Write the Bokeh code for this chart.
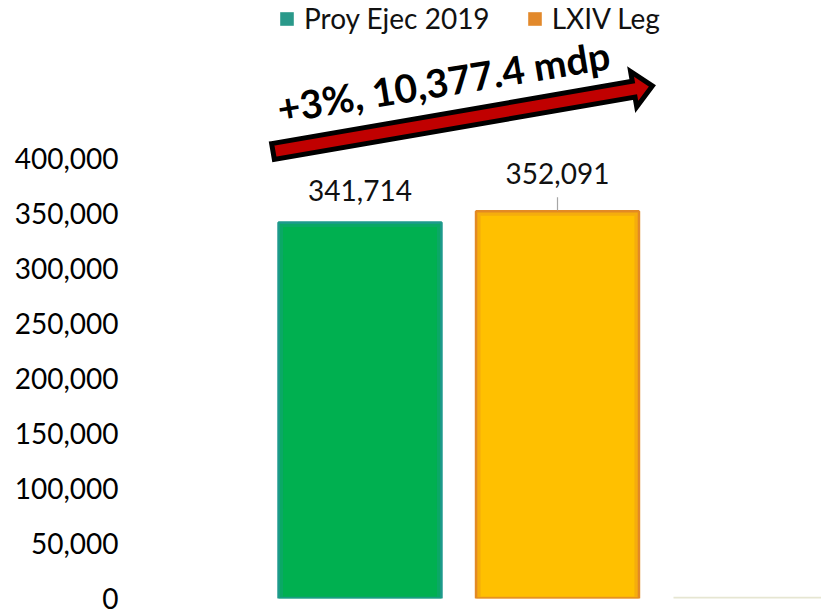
import math
from bokeh.plotting import figure
from bokeh.models import Range1d, FixedTicker, Legend, LegendItem, ColumnDataSource
from bokeh.embed import file_html
from bokeh.resources import INLINE
from bokeh.core.properties import value

# ---- data ----
categories = ["Proy Ejec 2019", "LXIV Leg"]
values = [341714, 352091]
value_labels = ["341,714", "352,091"]
y_ticks = [0, 50000, 100000, 150000, 200000, 250000, 300000, 350000, 400000]
y_tick_labels = ["0", "50,000", "100,000", "150,000", "200,000", "250,000",
                 "300,000", "350,000", "400,000"]
change_label = "+3%, 10,377.4 mdp"

# ---- styles ----
bar_fill = ["#00B050", "#FFC000"]
bar_edge = ["#1E9A8C", "#E38A24"]
legend_colors = ["#2A998A", "#E2892B"]
label_offset_px = [32, 38]
label_leader = [False, True]
FONT = "Lato"

# ---- layout ----
W, H = 821, 614
LEFT, BOTTOM = 130, 16
frame_w = W - LEFT
frame_h = H - BOTTOM
px_per_x = 197.5
px_per_y = 440 / 400000
x_start = 1 - (359.5 - LEFT) / px_per_x
x_end = x_start + frame_w / px_per_x
y_end = frame_h / px_per_y
upp = 1 / px_per_y  # data units per pixel (y)

def to_data(px, py):
    # canvas pixel -> data coords
    return (x_start + (px - LEFT) / px_per_x, (frame_h - py) / px_per_y)

p = figure(width=W, height=H, output_backend="svg", toolbar_location=None,
           x_range=Range1d(x_start, x_end), y_range=Range1d(0, y_end),
           min_border_left=LEFT, min_border_bottom=BOTTOM,
           min_border_top=0, min_border_right=0)
p.outline_line_color = None
p.xaxis.visible = False
p.xgrid.visible = False
p.ygrid.visible = False
p.background_fill_color = "white"
p.border_fill_color = "white"

ax = p.yaxis[0]
ax.ticker = FixedTicker(ticks=y_ticks)
ax.major_label_overrides = {t: l for t, l in zip(y_ticks, y_tick_labels)}
ax.axis_line_color = None
ax.major_tick_line_color = None
ax.minor_tick_line_color = None
ax.major_tick_out = 0
ax.major_tick_in = 0
ax.minor_tick_out = 0
ax.minor_tick_in = 0
ax.major_label_text_font = FONT
ax.major_label_text_font_size = "28px"
ax.major_label_text_line_height = 1.0
ax.major_label_text_color = "#000000"
ax.major_label_standoff = 12

xs = list(range(1, len(values) + 1))
bw = 0.825
src = ColumnDataSource(dict(x=xs, top=values, fill=bar_fill, edge=bar_edge))
p.vbar(x="x", top="top", width=bw, source=src, fill_color="fill",
       line_color="edge", line_width=2.5)
# soft inner edge glow
glow = ColumnDataSource(dict(x=xs, top=[v - 2.5 * upp for v in values], edge=bar_edge))
p.vbar(x="x", top="top", width=bw - 5 / px_per_x, source=glow, fill_color=None,
       line_color="edge", line_width=4, line_alpha=0.35)

# faint baseline stub to the right of the bars
bx0, _ = to_data(673, 0)
p.segment(x0=[bx0], x1=[x_end], y0=[0.6 * upp], y1=[0.6 * upp],
          line_color="#E6E6D2", line_width=2.5)

# value labels
lab_y = [v + o * upp for v, o in zip(values, label_offset_px)]
p.text(x=xs, y=lab_y, text=value_labels, text_font=value(FONT),
       text_font_size="28px", text_color="#111111", text_align="center",
       text_baseline="alphabetic")
lx = [x for x, f in zip(xs, label_leader) if f]
lv = [v for v, f in zip(values, label_leader) if f]
p.segment(x0=lx, x1=lx, y0=[v + 1 * upp for v in lv], y1=[v + 14 * upp for v in lv],
          line_color="#A6A6A6", line_width=1.2)

# legend (zero-width renderers carrying the legend colours)
items = []
for x, v, cat, col in zip(xs, values, categories, legend_colors):
    r = p.vbar(x=[x], top=[v], width=0, fill_color=col, line_color=None)
    items.append(LegendItem(label=cat, renderers=[r]))
leg = Legend(items=items, orientation="horizontal", location=(148, 563),
             glyph_width=17, glyph_height=17, label_standoff=9, spacing=36,
             padding=0, margin=0, border_line_color=None,
             background_fill_alpha=0, label_text_font=FONT,
             label_text_font_size="28px", label_text_color="#111111")
p.add_layout(leg)

# growth arrow (block arrow, red with black outline)
theta = math.radians(9.8)
P0 = (272.5, 151.0)
L, HL, hw, HW = 366.0, 19.0, 8.0, 18.0
d = (math.cos(theta), -math.sin(theta))
n = (math.sin(theta), math.cos(theta))
def pt(along, off):
    return (P0[0] + along * d[0] + off * n[0], P0[1] + along * d[1] + off * n[1])
poly = [pt(0, -hw), pt(L, -hw), pt(L, -HW), pt(L + HL, 0), pt(L, HW), pt(L, hw), pt(0, hw)]
pd = [to_data(*q) for q in poly]
p.patch([q[0] for q in pd], [q[1] for q in pd], fill_color="#C00000",
        line_color="black", line_width=5, line_join="miter")

tx, ty = to_data(277, 108)
p.text(x=[tx], y=[ty], text=[change_label], angle=math.radians(9.3),
       text_font=value(FONT), text_font_style="bold", text_font_size="39px",
       text_color="black", text_align="left", text_baseline="alphabetic")

open("out.html", "w").write(file_html(p, INLINE))
